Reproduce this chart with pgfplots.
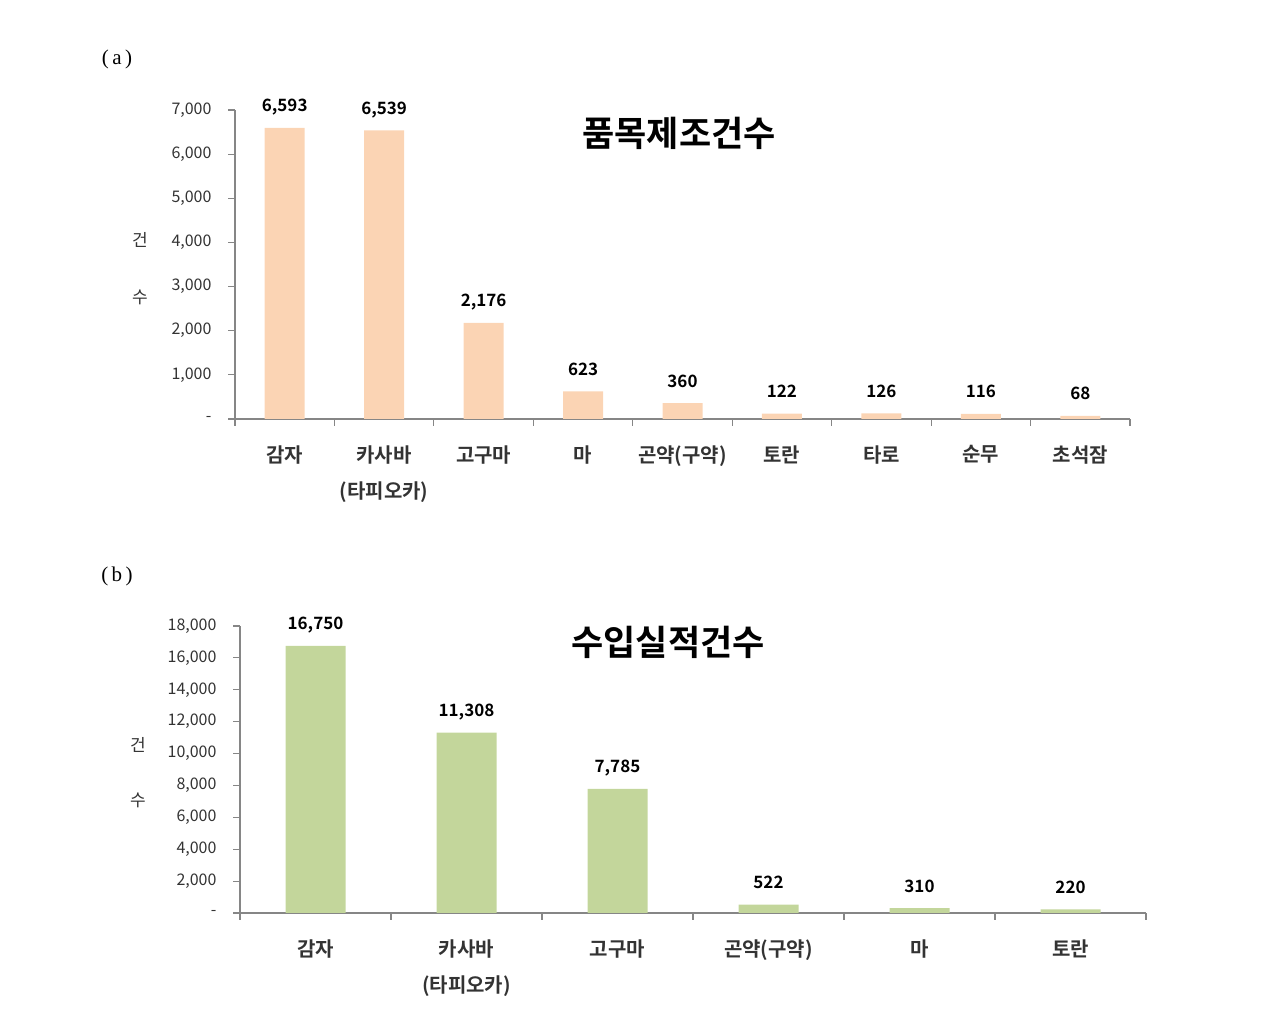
\documentclass[border=0pt]{standalone}
\usepackage{fontspec}
\setmainfont{Noto Sans CJK KR}[BoldFont={Noto Sans CJK KR Bold}]
\newfontfamily\serifa{Liberation Serif}
\usepackage{pgfplots}
\pgfplotsset{compat=1.18}
\definecolor{peach}{HTML}{FBD4B4}
\definecolor{leaf}{HTML}{C3D69B}
\definecolor{axgray}{HTML}{868686}
\definecolor{ticktext}{HTML}{333333}
\pgfplotsset{
  mybars/.style={
    scale only axis,
    anchor=south west,
    ymin=0,
    axis x line*=bottom,
    axis y line*=left,
    axis line style={axgray, line width=1.2bp},
    major tick style={axgray, line width=1.2bp},
    minor tick style={axgray, line width=1.2bp},
    tick align=outside,
    ytick pos=left,
    xtick pos=bottom,
    major tick length=7bp,
    minor tick length=7bp,
    scaled y ticks=false,
    yticklabel style={font=\fontsize{16bp}{18bp}\selectfont, text=ticktext, xshift=-13bp},
    major x tick style={draw=none},
    minor x tick style={axgray, line width=1.2bp},
    xticklabel style={font=\fontsize{20bp}{36bp}\selectfont\bfseries, text=ticktext, align=center, anchor=north, yshift=-16bp},
    ybar, 
    /pgf/number format/.cd, 1000 sep={,}, assume math mode=true, /pgfplots/.cd,
    nodes near coords,
    every node near coord/.append style={font=\fontsize{17bp}{19bp}\selectfont\bfseries, text=black, anchor=base, yshift=16bp},
    clip=false,
  }
}
\begin{document}
\begin{tikzpicture}[x=1bp,y=1bp]
\useasboundingbox (0,0) rectangle (1265,1029);
% panel (a)
\node[font=\serifa\fontsize{21bp}{24bp}\selectfont] at (117,970) {(\,a\,)};
\begin{axis}[mybars,
  at={(235bp,610bp)}, width=895bp, height=309bp,
  xmin=-0.5, xmax=8.5, ymax=7000,
  bar width=40bp,
  xtick={0,...,8},
  xticklabels={감자,{카사바\\(타피오카)},고구마,마,곤약(구약),토란,타로,순무,초석잠},
  minor xtick={-0.5,0.5,...,8.5},
  ytick={0,1000,...,7000},
  yticklabels={-,{1,000},{2,000},{3,000},{4,000},{5,000},{6,000},{7,000}},
]
\addplot[fill=peach, draw=none] coordinates {(0,6593) (1,6539) (2,2176) (3,623) (4,360) (5,122) (6,126) (7,116) (8,68)};
\end{axis}
\node[font=\fontsize{35bp}{38bp}\selectfont\bfseries] at (679,896) {품목제조건수};
\node[font=\fontsize{17bp}{19bp}\selectfont, text=ticktext] at (140,789) {건};
\node[font=\fontsize{17bp}{19bp}\selectfont, text=ticktext] at (140,732) {수};
% panel (b)
\node[font=\serifa\fontsize{21bp}{24bp}\selectfont] at (117,453) {(\,b\,)};
\begin{axis}[mybars,
  at={(240bp,116bp)}, width=906bp, height=287bp,
  xmin=-0.5, xmax=5.5, ymax=18000,
  bar width=60bp,
  xtick={0,...,5},
  xticklabels={감자,{카사바\\(타피오카)},고구마,곤약(구약),마,토란},
  minor xtick={-0.5,0.5,...,5.5},
  ytick={0,2000,...,18000},
  yticklabels={-,{2,000},{4,000},{6,000},{8,000},{10,000},{12,000},{14,000},{16,000},{18,000}},
]
\addplot[fill=leaf, draw=none] coordinates {(0,16750) (1,11308) (2,7785) (3,522) (4,310) (5,220)};
\end{axis}
\node[font=\fontsize{35bp}{38bp}\selectfont\bfseries] at (668,387) {수입실적건수};
\node[font=\fontsize{17bp}{19bp}\selectfont, text=ticktext] at (138,284) {건};
\node[font=\fontsize{17bp}{19bp}\selectfont, text=ticktext] at (138,229) {수};
\end{tikzpicture}
\end{document}
